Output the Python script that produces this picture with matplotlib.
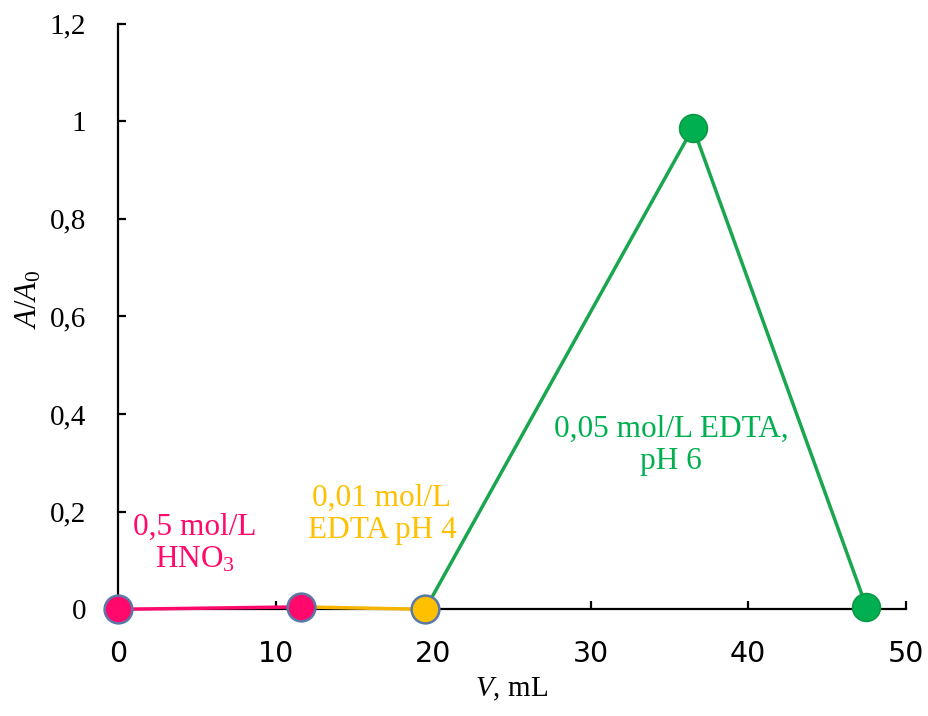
import matplotlib
matplotlib.use("Agg")
import matplotlib.pyplot as plt
from matplotlib.ticker import FuncFormatter

plt.rcParams["mathtext.fontset"] = "custom"
plt.rcParams["mathtext.rm"] = "Liberation Serif"
plt.rcParams["mathtext.it"] = "Liberation Serif:italic"

# data
hno3_v = [0, 11.6]
hno3_a = [0, 0.005]
edta4_v = [11.6, 19.5]
edta4_a = [0.005, 0]
edta6_v = [19.5, 36.5, 47.5]
edta6_a = [0, 0.987, 0.005]

pink = "#ff0a6c"
yellow = "#ffc000"
green = "#00b050"
edge_blue = "#5a78a8"

fig = plt.figure(figsize=(9.29, 7.16), dpi=100)
ax = fig.add_axes([0.127, 0.149, 0.848, 0.818])

ax.plot(hno3_v, hno3_a, color=pink, lw=2.5, zorder=2, clip_on=False)
ax.plot(edta4_v, edta4_a, color="#f5b400", lw=2.5, zorder=2, clip_on=False)
ax.plot(edta6_v, edta6_a, color="#1aa64f", lw=2.5, zorder=2, clip_on=False)

# markers
ax.plot(hno3_v, hno3_a, "o", ms=20, mfc=pink, mec=edge_blue, mew=1.8,
        zorder=4, clip_on=False)
ax.plot(edta4_v[1:], edta4_a[1:], "o", ms=20, mfc=yellow, mec=edge_blue, mew=1.8,
        zorder=4, clip_on=False)
ax.plot(edta6_v[1:], edta6_a[1:], "o", ms=20, mfc=green, mec="#0a9a45", mew=1.2,
        zorder=4, clip_on=False)

ax.set_xlim(0, 50)
ax.set_ylim(0, 1.2)
ax.set_xticks([0, 10, 20, 30, 40, 50])
ax.set_yticks([0, 0.2, 0.4, 0.6, 0.8, 1.0, 1.2])
ax.yaxis.set_major_formatter(FuncFormatter(lambda v, p: f"{v:g}".replace(".", ",")))

for side in ["top", "right"]:
    ax.spines[side].set_visible(False)
for side in ["left", "bottom"]:
    ax.spines[side].set_linewidth(1.6)
    ax.spines[side].set_zorder(1)

ax.tick_params(axis="both", direction="in", length=6, width=1.6)
ax.tick_params(axis="x", pad=22, labelsize=20.5)
ax.tick_params(axis="y", pad=23, labelsize=21)
for lbl in ax.get_yticklabels():
    lbl.set_fontfamily("Liberation Serif")
for lbl in ax.get_xticklabels():
    lbl.set_fontfamily("DejaVu Sans")

ax.set_xlabel(r"$\mathit{V}$, mL", fontfamily="Liberation Serif", fontsize=21, labelpad=6)
ax.set_ylabel(r"$\mathit{A/A}_\mathrm{0}$", fontfamily="Liberation Serif", fontsize=22)
ax.yaxis.set_label_coords(-0.094, 0.53)

txt = dict(fontfamily="Liberation Serif", fontsize=22.5, ha="center", va="center",
           linespacing=1.15)
ax.text(4.9, 0.135, "0,5 mol/L\nHNO$_3$", color=pink, **txt)
ax.text(16.75, 0.195, "0,01 mol/L\nEDTA pH 4", color=yellow, **txt)
ax.text(35.1, 0.336, "0,05 mol/L EDTA,\npH 6", color=green, **txt)

fig.savefig("out.png", dpi=100)
